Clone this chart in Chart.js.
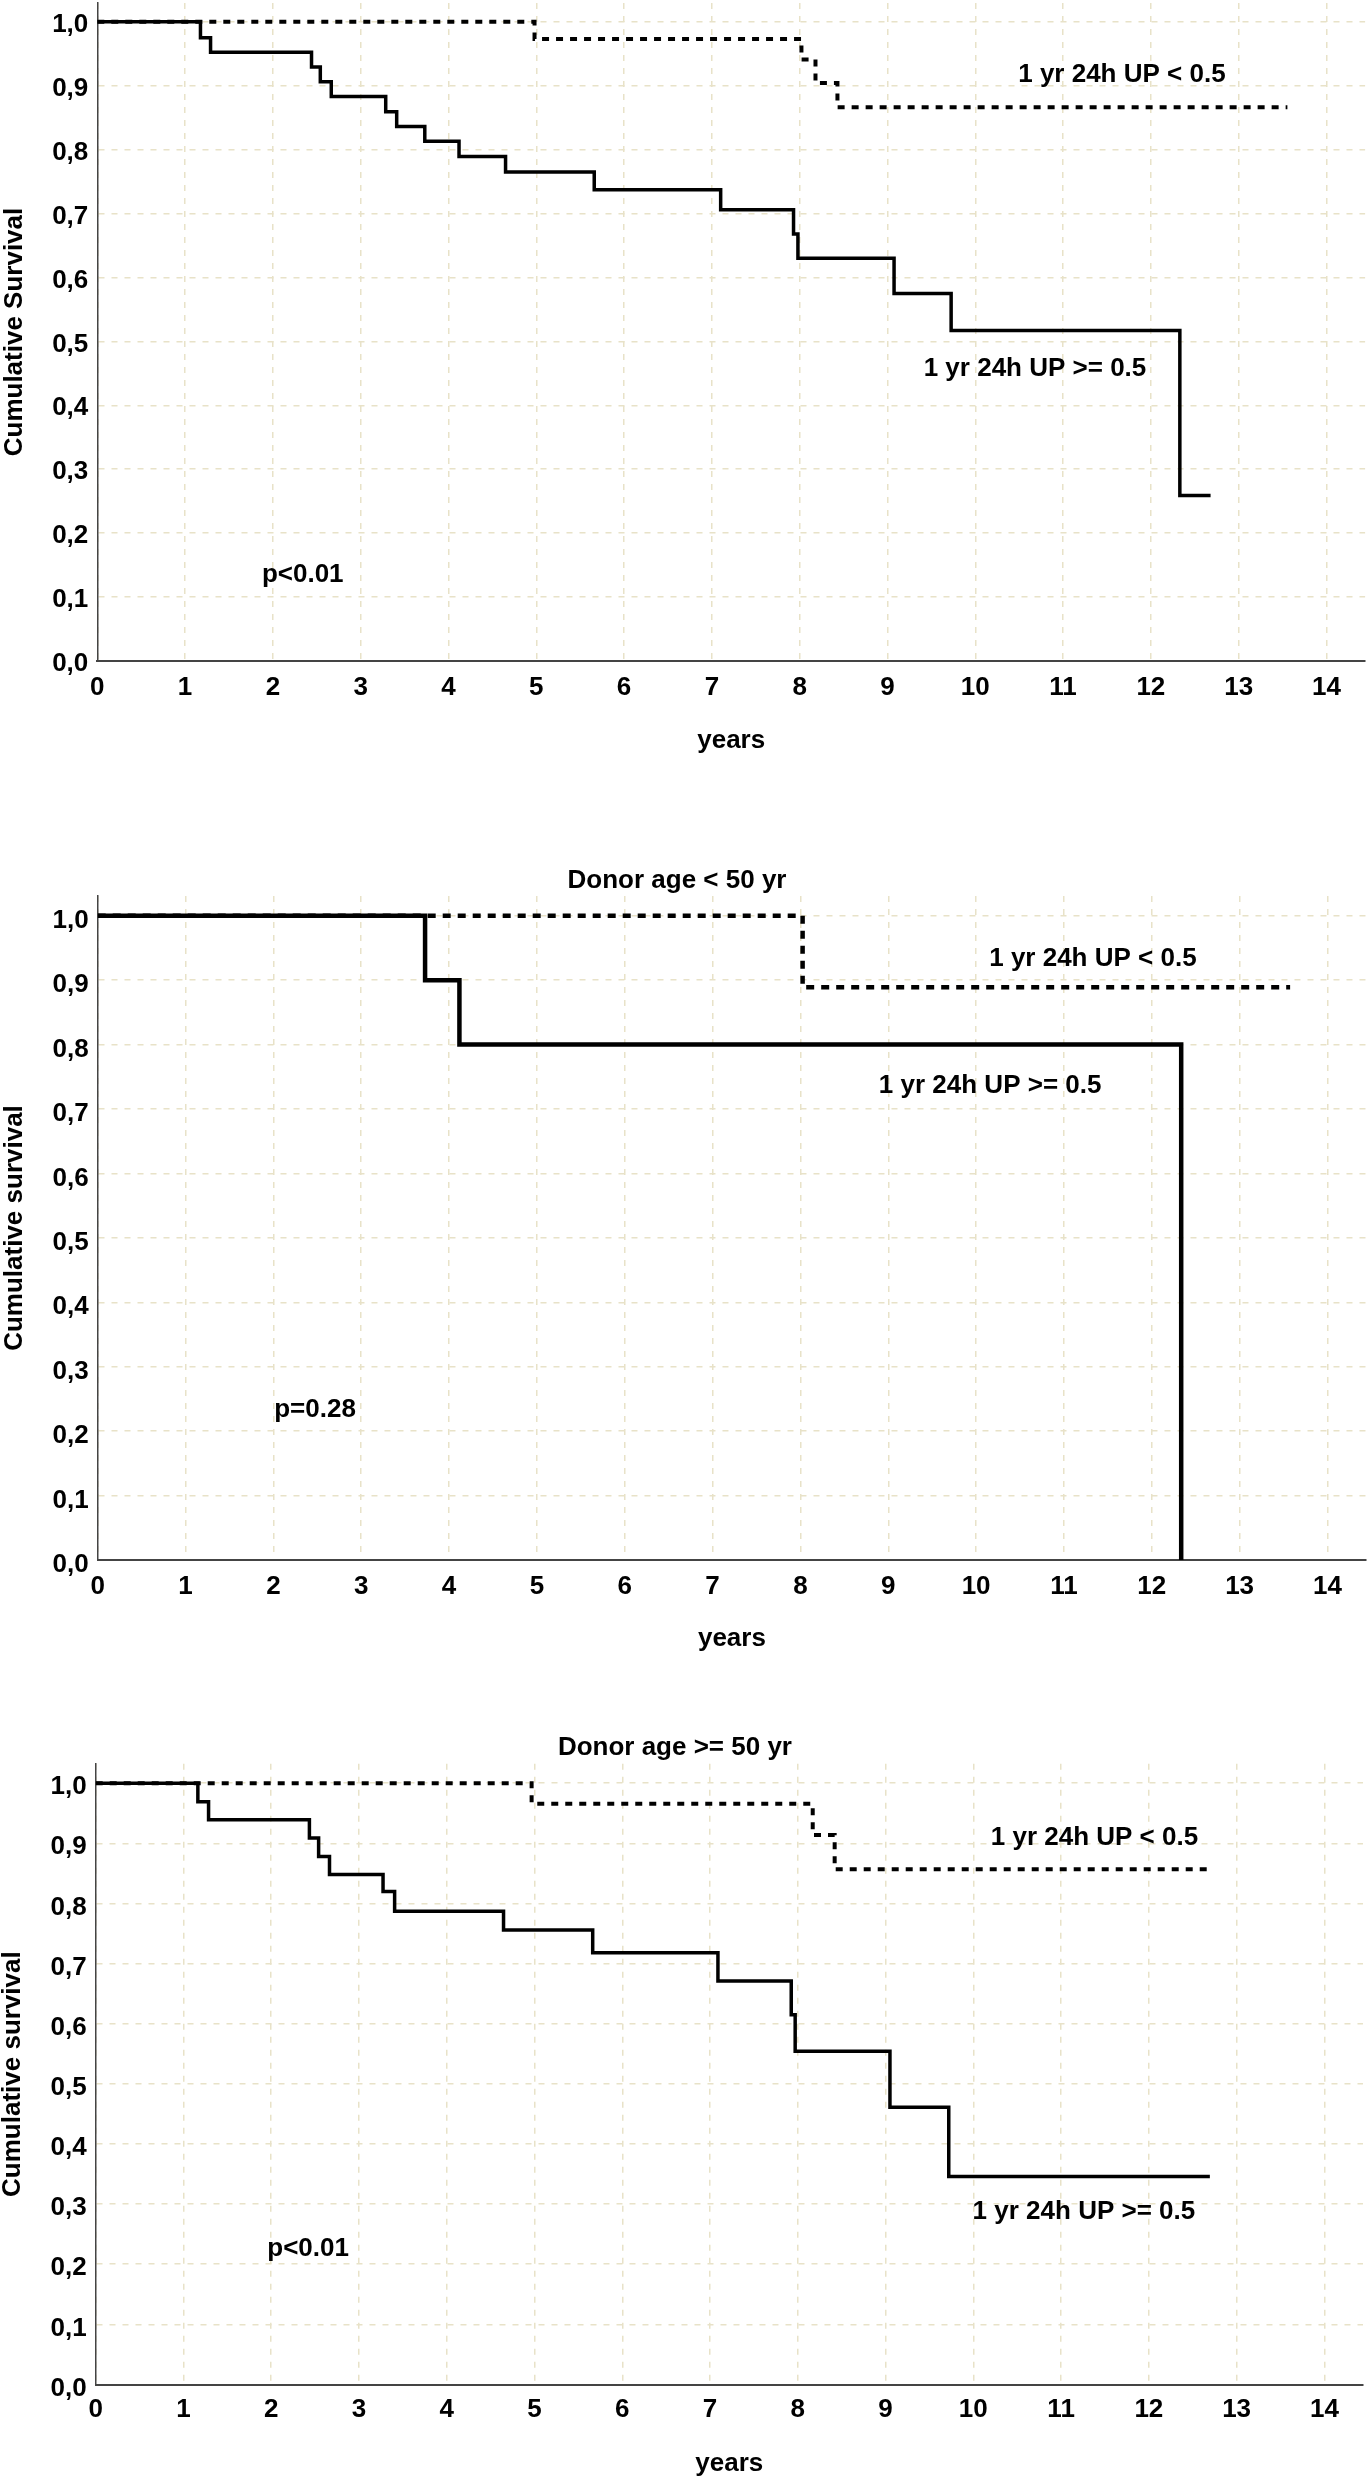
<!DOCTYPE html>
<html>
<head>
<meta charset="utf-8">
<script src="https://cdn.jsdelivr.net/npm/chart.js@4.4.1/dist/chart.umd.min.js"></script>
<style>
  html, body { margin: 0; padding: 0; background: #fff; }
  #page { position: relative; width: 1369px; height: 2481px; overflow: hidden; background: #fff; }
  .panel { position: absolute; left: 0; }
</style>
</head>
<body>
<div id="page">
  <canvas id="km1" class="panel" width="1369" height="780" style="top:0px"></canvas>
  <canvas id="km2" class="panel" width="1369" height="810" style="top:850px"></canvas>
  <canvas id="km3" class="panel" width="1369" height="781" style="top:1700px"></canvas>
</div>
<script>
// tick values shared by the three panels
const yearTicks = [0, 1, 2, 3, 4, 5, 6, 7, 8, 9, 10, 11, 12, 13, 14];
const survTicks = [0, 0.1, 0.2, 0.3, 0.4, 0.5, 0.6, 0.7, 0.8, 0.9, 1.0];

// panel 1 - all donors
const all_hiTimes = [0, 1.175, 1.29, 2.44, 2.54, 2.665, 3.285, 3.41, 3.73, 4.12, 4.65, 5.66, 7.10, 7.93, 7.98, 9.075, 9.725, 12.33, 12.68];
const all_hiSurv  = [1, 0.975, 0.952, 0.929, 0.906, 0.883, 0.859, 0.836, 0.813, 0.789, 0.765, 0.737, 0.706, 0.668, 0.630, 0.575, 0.517, 0.259, 0.259];
const all_loTimes = [0, 4.98, 8.02, 8.18, 8.43, 13.555];
const all_loSurv  = [1, 0.973, 0.941, 0.904, 0.866, 0.866];

// panel 2 - donor age < 50
const young_hiTimes = [0, 3.727, 4.118, 12.335];
const young_hiSurv  = [1, 0.9, 0.8, 0.0];
const young_loTimes = [0, 8.025, 13.575];
const young_loSurv  = [1, 0.889, 0.889];

// panel 3 - donor age >= 50
const old_hiTimes = [0, 1.164, 1.286, 2.435, 2.54, 2.664, 3.274, 3.406, 4.647, 5.663, 7.09, 7.925, 7.97, 9.05, 9.72, 12.695];
const old_hiSurv  = [1, 0.969, 0.939, 0.909, 0.878, 0.848, 0.820, 0.787, 0.756, 0.718, 0.671, 0.615, 0.554, 0.461, 0.346, 0.346];
const old_loTimes = [0, 4.967, 8.17, 8.42, 12.695];
const old_loSurv  = [1, 0.966, 0.914, 0.857, 0.857];

const FONT = "'Liberation Sans', Arial, sans-serif";
const GRID = 'rgb(232,226,200)';

function pts(times, surv) {
    return times.map((t, i) => ({ x: t, y: surv[i] }));
}

// free text inside / above the plot, placed in data units
const textLabels = {
    id: 'textLabels',
    afterDatasetsDraw(chart, args, opts) {
        const { ctx, scales: { x, y } } = chart;
        ctx.save();
        ctx.font = 'bold 26px ' + FONT;
        ctx.fillStyle = '#000';
        ctx.textAlign = 'center';
        ctx.textBaseline = 'middle';
        (opts.items || []).forEach(it => {
            ctx.fillText(it.text, x.getPixelForValue(it.x), y.getPixelForValue(it.y));
        });
        ctx.restore();
    }
};

function makeKM(id, p) {
    return new Chart(document.getElementById(id), {
        type: 'line',
        data: {
            datasets: [
                {
                    data: pts(p.hiTimes, p.hiSurv),
                    borderColor: '#000', borderWidth: p.lw,
                    stepped: 'before', pointRadius: 0, fill: false
                },
                {
                    data: pts(p.loTimes, p.loSurv),
                    borderColor: '#000', borderWidth: p.dlw, borderDash: p.dash,
                    stepped: 'before', pointRadius: 0, fill: false
                }
            ]
        },
        options: {
            responsive: false,
            animation: false,
            devicePixelRatio: 1,
            layout: { padding: p.pad },
            plugins: {
                legend: { display: false },
                tooltip: { enabled: false },
                textLabels: { items: p.labels }
            },
            scales: {
                x: {
                    type: 'linear', min: 0, max: 14.44,
                    afterBuildTicks: s => { s.ticks = yearTicks.map(v => ({ value: v })); },
                    afterFit: s => { s.height = p.xh; s.paddingLeft = 0; s.paddingRight = 0; },
                    grid: { color: GRID, lineWidth: 1.5, drawTicks: false },
                    border: { display: true, color: '#444', width: 2, dash: [6, 7] },
                    ticks: {
                        padding: p.xPad, color: '#000', maxRotation: 0, autoSkip: false,
                        font: { family: FONT, size: 26, weight: 'bold', lineHeight: 1 },
                        callback: v => String(v)
                    },
                    title: {
                        display: true, text: 'years', color: '#000',
                        padding: { top: 0, bottom: 0 },
                        font: { family: FONT, size: 26, weight: 'bold', lineHeight: 1 }
                    }
                },
                y: {
                    type: 'linear', min: 0, max: p.ymax,
                    afterBuildTicks: s => { s.ticks = survTicks.map(v => ({ value: v })); },
                    afterFit: s => { s.width = p.yw; s.paddingTop = 0; s.paddingBottom = 0; },
                    grid: { color: GRID, lineWidth: 1.5, drawTicks: false },
                    border: { display: true, color: '#444', width: 1.5, dash: [6, 7] },
                    ticks: {
                        padding: 9, labelOffset: p.yOff, color: '#000', autoSkip: false,
                        font: { family: FONT, size: 26, weight: 'bold', lineHeight: 1 },
                        callback: v => v.toFixed(1).replace('.', ',')
                    },
                    title: {
                        display: true, text: p.yTitle, color: '#000',
                        padding: { top: p.yTitlePad, bottom: 0 },
                        font: { family: FONT, size: 26, weight: 'bold', lineHeight: 1 }
                    }
                }
            }
        },
        plugins: [textLabels]
    });
}

makeKM('km1', {
    hiTimes: all_hiTimes, hiSurv: all_hiSurv, loTimes: all_loTimes, loSurv: all_loSurv,
    lw: 3.5, dlw: 4, dash: [7, 7], ymax: 1.0292,
    pad: { top: 3, left: 0, right: 3.9, bottom: 26 },
    yw: 97.3, xh: 93, xPad: 14, yOff: 3, yTitlePad: 2,
    yTitle: 'Cumulative Survival',
    labels: [
        { text: '1 yr 24h UP < 0.5', x: 11.67, y: 0.917 },
        { text: '1 yr 24h UP >= 0.5', x: 10.68, y: 0.457 },
        { text: 'p<0.01', x: 2.34, y: 0.1345 }
    ]
});

makeKM('km2', {
    hiTimes: young_hiTimes, hiSurv: young_hiSurv, loTimes: young_loTimes, loSurv: young_loSurv,
    lw: 4.5, dlw: 4.5, dash: [8, 7], ymax: 1.0306,
    pad: { top: 46, left: 0, right: 2.9, bottom: 8 },
    yw: 97.7, xh: 92, xPad: 13.5, yOff: 5, yTitlePad: 2,
    yTitle: 'Cumulative survival',
    labels: [
        { text: 'Donor age < 50 yr', x: 6.595, y: 1.0545 },
        { text: '1 yr 24h UP < 0.5', x: 11.33, y: 0.933 },
        { text: '1 yr 24h UP >= 0.5', x: 10.16, y: 0.736 },
        { text: 'p=0.28', x: 2.474, y: 0.2333 }
    ]
});

makeKM('km3', {
    hiTimes: old_hiTimes, hiSurv: old_hiSurv, loTimes: old_loTimes, loSurv: old_loSurv,
    lw: 3.5, dlw: 4, dash: [7, 7], ymax: 1.0324,
    pad: { top: 63.7, left: 0, right: 6, bottom: 4.5 },
    yw: 95.7, xh: 92, xPad: 12.5, yOff: 4, yTitlePad: 0,
    yTitle: 'Cumulative survival',
    labels: [
        { text: 'Donor age >= 50 yr', x: 6.60, y: 1.058 },
        { text: '1 yr 24h UP < 0.5', x: 11.38, y: 0.909 },
        { text: '1 yr 24h UP >= 0.5', x: 11.26, y: 0.2877 },
        { text: 'p<0.01', x: 2.42, y: 0.2257 }
    ]
});
</script>
</body>
</html>
